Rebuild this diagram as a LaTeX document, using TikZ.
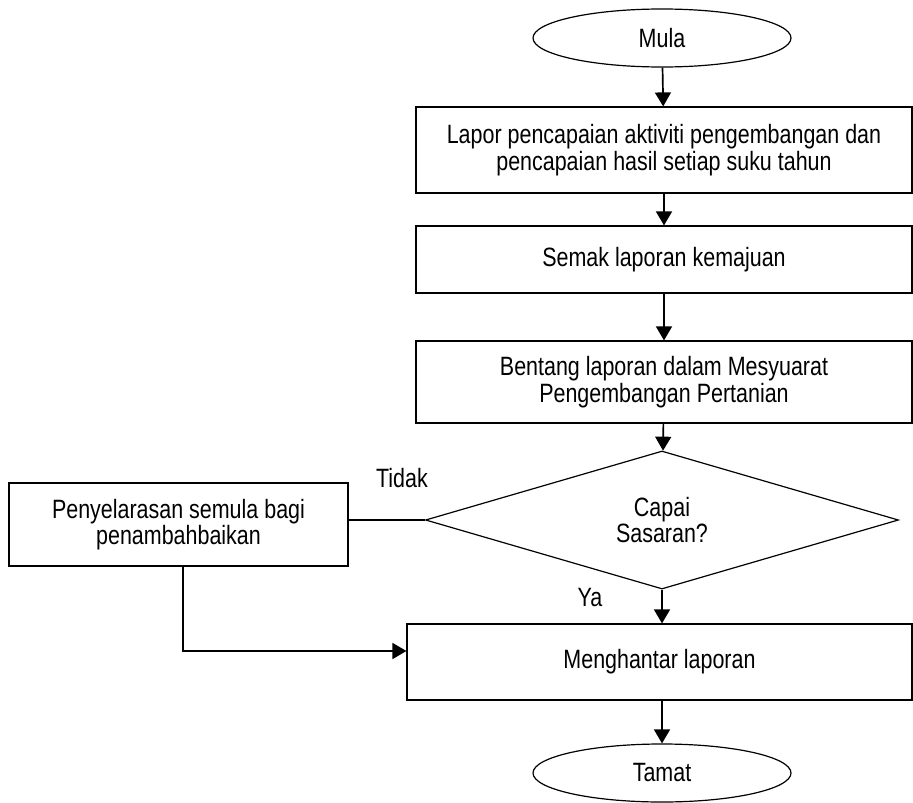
\documentclass[tikz,border=0pt]{standalone}
\usepackage{fontspec}
\setmainfont[FakeStretch=0.81]{Liberation Sans}
\usetikzlibrary{shapes.geometric,arrows.meta,positioning}
\tikzset
{
    procnode/.style = {rectangle, draw=black, line width=1.2pt, align=center, minimum width=496pt, inner sep=0pt},
    sidenode/.style = {rectangle, draw=black, line width=1.2pt, align=center, minimum width=339pt, minimum height=83pt, inner sep=0pt},
    termnode/.style = {ellipse, draw=black, line width=1.2pt, align=center, minimum width=258pt, minimum height=58pt, inner sep=0pt},
    decinode/.style = {diamond, draw=black, line width=1.2pt, align=center, minimum width=473pt, minimum height=136pt, inner sep=0pt},
    flowline/.style = {draw=black, line width=1.7pt},
    flowarrow/.style = {flowline, -{Triangle[width=16pt,length=14pt]}}
}

\begin{document}
\begin{tikzpicture}[x=1pt, y=-1pt, font=\fontsize{26.5pt}{26.7pt}\selectfont]
	\useasboundingbox (0,0) rectangle (913,803);
	% langkah utama
	\node[termnode] (mula) at (662,38) {Mula};
	\node[procnode, minimum height=86pt] (lapor) at (664,150) {Lapor pencapaian aktiviti pengembangan dan\\pencapaian hasil setiap suku tahun};
	\node[procnode, minimum height=67pt] (semak) at (664,259.5) {Semak laporan kemajuan};
	\node[procnode, minimum height=82pt] (bentang) at (664,382) {Bentang laporan dalam Mesyuarat\\Pengembangan Pertanian};
	\node[decinode] (capai) at (662,520) {Capai\\Sasaran?};
	\node[procnode, minimum width=505pt, minimum height=76pt] (hantar) at (659.5,662) {Menghantar laporan};
	\node[termnode] (tamat) at (662,773) {Tamat};
	% cabang tidak
	\node[sidenode] (selaras) at (178.5,524.5) {Penyelarasan semula bagi\\penambahbaikan};
	\node (tidak) at (402,478) {Tidak};
	\node (ya) at (590,598) {Ya};

	\draw[flowarrow] (mula) -- (lapor);
	\draw[flowarrow] (lapor) -- (semak);
	\draw[flowarrow] (semak) -- (bentang);
	\draw[flowarrow] (bentang) -- (capai);
	\draw[flowarrow] (capai) -- (capai |- hantar.north);
	\draw[flowline] (capai.west) -- (capai.west -| selaras.east);
	\draw[flowarrow] ([xshift=4.5pt]selaras.south) |- ([yshift=11pt]hantar.west);
	\draw[flowarrow] (tamat |- hantar.south) -- (tamat);
\end{tikzpicture}
\end{document}
